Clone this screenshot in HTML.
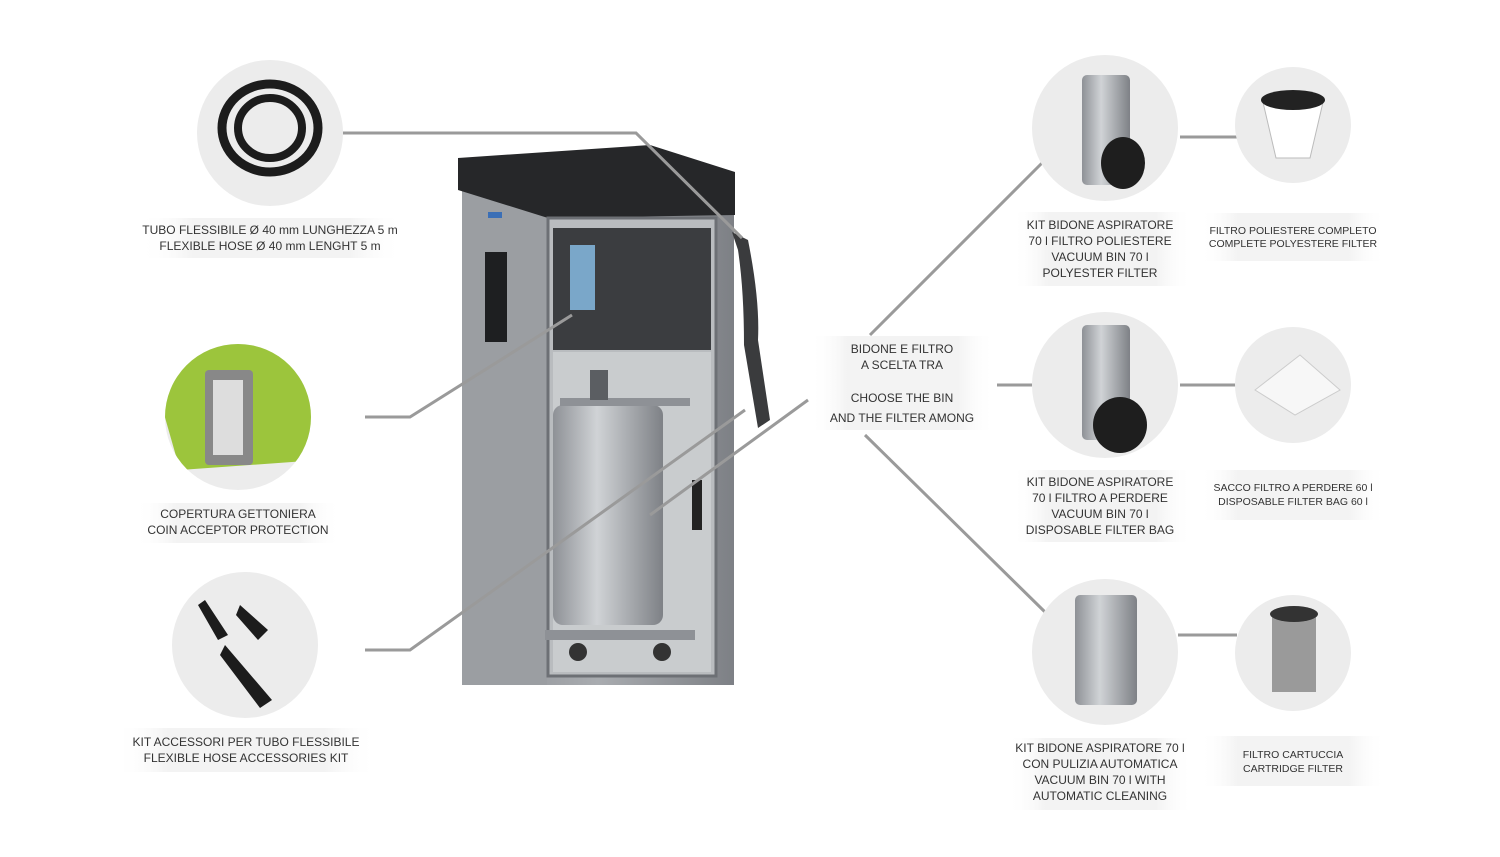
<!DOCTYPE html>
<html><head><meta charset="utf-8"><style>
html,body{margin:0;padding:0;background:#fff;}
svg{display:block;font-family:"Liberation Sans",sans-serif;}
.t{font-size:12px;fill:#333;text-anchor:middle;}
.s{font-size:10.5px;fill:#333;text-anchor:middle;}
.ln{stroke:#9a9a9a;stroke-width:3;fill:none;}
</style></head><body>
<svg width="1500" height="857" viewBox="0 0 1500 857" xmlns="http://www.w3.org/2000/svg">
<defs>
<linearGradient id="bx" x1="0" x2="1"><stop offset="0" stop-color="#fff" stop-opacity="0"/><stop offset=".2" stop-color="#f3f3f3"/><stop offset=".8" stop-color="#f3f3f3"/><stop offset="1" stop-color="#fff" stop-opacity="0"/></linearGradient>
<linearGradient id="body" x1="0" x2="1"><stop offset="0" stop-color="#8a8d92"/><stop offset=".5" stop-color="#a9acb0"/><stop offset="1" stop-color="#7d8085"/></linearGradient>
<linearGradient id="bin" x1="0" x2="1"><stop offset="0" stop-color="#8e9196"/><stop offset=".4" stop-color="#d0d3d6"/><stop offset="1" stop-color="#7e8186"/></linearGradient>
<clipPath id="c2"><circle cx="238" cy="417" r="73"/></clipPath>
</defs>

<!-- machine -->
<rect x="462" y="185" width="272" height="500" fill="url(#body)"/>
<rect x="462" y="185" width="85" height="500" fill="#9b9ea2"/>
<path d="M458,158 L650,145 L735,172 L735,215 L548,218 L458,190 Z" fill="#262729"/>
<rect x="548" y="218" width="168" height="458" fill="#b9bcbf" stroke="#6d7075" stroke-width="3"/>
<rect x="553" y="228" width="158" height="122" fill="#3b3d40"/>
<rect x="570" y="245" width="25" height="65" fill="#7aa7c9"/>
<rect x="553" y="352" width="158" height="320" fill="#c9ccce"/>
<rect x="553" y="405" width="110" height="220" rx="10" fill="url(#bin)"/>
<rect x="560" y="398" width="130" height="8" fill="#8e9196"/>
<rect x="590" y="370" width="18" height="30" fill="#5b5e62"/>
<rect x="545" y="630" width="150" height="10" fill="#8e9196"/>
<circle cx="578" cy="652" r="9" fill="#333"/><circle cx="662" cy="652" r="9" fill="#333"/>
<rect x="485" y="252" width="22" height="90" fill="#1e1f21"/>
<rect x="488" y="212" width="14" height="6" fill="#3b6fb6"/>
<rect x="692" y="480" width="10" height="50" fill="#222"/>
<path d="M732,232 L748,240 Q760,300 758,340 L770,420 L758,428 L744,345 Q744,290 738,250 Z" fill="#3a3b3d"/>

<!-- lines -->
<polyline class="ln" points="343,133 636,133 742,238"/>
<polyline class="ln" points="365,417 410,417 572,315"/>
<polyline class="ln" points="365,650 410,650 745,410"/>
<line class="ln" x1="808" y1="400" x2="650" y2="515"/>
<line class="ln" x1="870" y1="335" x2="1042" y2="163"/>
<line class="ln" x1="997" y1="385" x2="1032" y2="385"/>
<line class="ln" x1="865" y1="435" x2="1045" y2="612"/>
<line class="ln" x1="1180" y1="137" x2="1237" y2="137"/>
<line class="ln" x1="1180" y1="385" x2="1237" y2="385"/>
<line class="ln" x1="1178" y1="635" x2="1237" y2="635"/>

<!-- circles left -->
<circle cx="270" cy="133" r="73" fill="#ececec"/>
<ellipse cx="270" cy="128" rx="48" ry="44" fill="none" stroke="#1c1c1c" stroke-width="9"/>
<ellipse cx="270" cy="128" rx="32" ry="30" fill="none" stroke="#1c1c1c" stroke-width="8"/>
<circle cx="238" cy="417" r="73" fill="#ececec"/>
<g clip-path="url(#c2)">
<path d="M238,344 L320,344 L320,460 L180,470 L160,400 L200,344Z" fill="#9cc53c"/>
<rect x="205" y="370" width="48" height="95" rx="4" fill="#888"/>
<rect x="213" y="380" width="30" height="75" fill="#ddd"/>
</g>
<circle cx="245" cy="645" r="73" fill="#ececec"/>
<path d="M205,600 L228,635 L218,640 L198,605Z M240,605 L268,630 L258,640 L236,615Z M225,645 L272,700 L260,708 L220,655Z" fill="#1c1c1c"/>

<!-- circles right -->
<circle cx="1105" cy="128" r="73" fill="#ececec"/>
<rect x="1082" y="75" width="48" height="110" rx="5" fill="url(#bin)"/>
<ellipse cx="1123" cy="163" rx="22" ry="26" fill="#1e1e1e"/>
<circle cx="1293" cy="125" r="58" fill="#ececec"/>
<path d="M1262,98 L1324,98 L1310,158 L1276,158Z" fill="#fff" stroke="#bbb"/>
<ellipse cx="1293" cy="100" rx="32" ry="10" fill="#222"/>
<circle cx="1105" cy="385" r="73" fill="#ececec"/>
<rect x="1082" y="325" width="48" height="115" rx="5" fill="url(#bin)"/>
<ellipse cx="1120" cy="425" rx="27" ry="28" fill="#1e1e1e"/>
<circle cx="1293" cy="385" r="58" fill="#ececec"/>
<path d="M1255,390 L1300,355 L1340,390 L1295,415Z" fill="#f7f7f7" stroke="#ccc"/>
<circle cx="1105" cy="652" r="73" fill="#ececec"/>
<rect x="1075" y="595" width="62" height="110" rx="5" fill="url(#bin)"/>
<circle cx="1293" cy="653" r="58" fill="#ececec"/>
<rect x="1272" y="612" width="44" height="80" fill="#9a9a9a"/>
<ellipse cx="1294" cy="614" rx="24" ry="8" fill="#333"/>

<!-- label boxes -->
<rect x="140" y="218" width="262" height="40" fill="url(#bx)"/>
<text class="t" x="270" y="234">TUBO FLESSIBILE Ø 40 mm LUNGHEZZA 5 m</text>
<text class="t" x="270" y="250">FLEXIBLE HOSE Ø 40 mm LENGHT 5 m</text>
<rect x="135" y="503" width="206" height="40" fill="url(#bx)"/>
<text class="t" x="238" y="518">COPERTURA GETTONIERA</text>
<text class="t" x="238" y="534">COIN ACCEPTOR PROTECTION</text>
<rect x="115" y="728" width="262" height="44" fill="url(#bx)"/>
<text class="t" x="246" y="746">KIT ACCESSORI PER TUBO FLESSIBILE</text>
<text class="t" x="246" y="762">FLEXIBLE HOSE ACCESSORIES KIT</text>
<rect x="810" y="336" width="185" height="94" fill="url(#bx)"/>
<text class="t" x="902" y="353">BIDONE E FILTRO</text>
<text class="t" x="902" y="369">A SCELTA TRA</text>
<text class="t" x="902" y="402">CHOOSE THE BIN</text>
<text class="t" x="902" y="422">AND THE FILTER AMONG</text>
<rect x="1012" y="212" width="180" height="74" fill="url(#bx)"/>
<text class="t" x="1100" y="229">KIT BIDONE ASPIRATORE</text>
<text class="t" x="1100" y="245">70 l FILTRO POLIESTERE</text>
<text class="t" x="1100" y="261">VACUUM BIN 70 l</text>
<text class="t" x="1100" y="277">POLYESTER FILTER</text>
<rect x="1200" y="213" width="186" height="48" fill="url(#bx)"/>
<text class="s" x="1293" y="234">FILTRO POLIESTERE COMPLETO</text>
<text class="s" x="1293" y="247">COMPLETE POLYESTERE FILTER</text>
<rect x="1012" y="470" width="180" height="72" fill="url(#bx)"/>
<text class="t" x="1100" y="486">KIT BIDONE ASPIRATORE</text>
<text class="t" x="1100" y="502">70 l FILTRO A PERDERE</text>
<text class="t" x="1100" y="518">VACUUM BIN 70 l</text>
<text class="t" x="1100" y="534">DISPOSABLE FILTER BAG</text>
<rect x="1200" y="470" width="186" height="50" fill="url(#bx)"/>
<text class="s" x="1293" y="491">SACCO FILTRO A PERDERE 60 l</text>
<text class="s" x="1293" y="505">DISPOSABLE FILTER BAG 60 l</text>
<rect x="1008" y="738" width="185" height="72" fill="url(#bx)"/>
<text class="t" x="1100" y="752">KIT BIDONE ASPIRATORE 70 l</text>
<text class="t" x="1100" y="768">CON PULIZIA AUTOMATICA</text>
<text class="t" x="1100" y="784">VACUUM BIN 70 l WITH</text>
<text class="t" x="1100" y="800">AUTOMATIC CLEANING</text>
<rect x="1200" y="736" width="186" height="50" fill="url(#bx)"/>
<text class="s" x="1293" y="758">FILTRO CARTUCCIA</text>
<text class="s" x="1293" y="772">CARTRIDGE FILTER</text>
</svg>
</body></html>
